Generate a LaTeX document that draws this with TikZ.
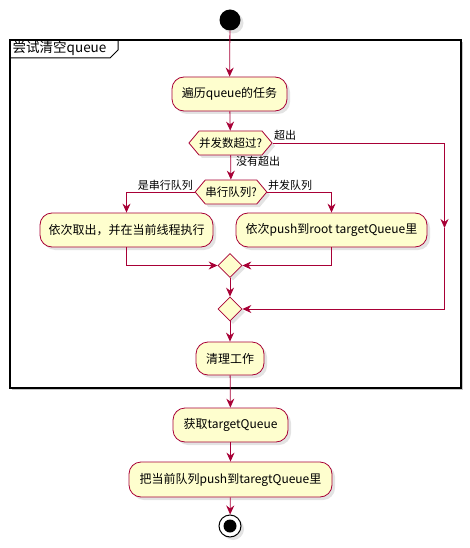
\documentclass[tikz,border=0pt]{standalone}
\usepackage{fontspec}
\setmainfont{Noto Sans CJK SC}
\usetikzlibrary{arrows.meta,shapes.geometric,shapes.symbols,shadows}
\definecolor{pborder}{HTML}{A80036}
\definecolor{pfill}{HTML}{FEFECE}
\tikzset{
  shd/.style={drop shadow={shadow xshift=3pt,shadow yshift=-3pt,opacity=0.22}},
  act/.style={draw=pborder, fill=pfill, rounded corners=12pt, minimum height=34pt,
    line width=0.8pt, font=\fontsize{12}{14}\selectfont, inner sep=0pt, shd},
  hexa/.style={signal, signal to=west and east, signal pointer angle=100,
    draw=pborder, fill=pfill, minimum height=24pt, inner sep=0pt,
    line width=0.8pt, font=\fontsize{11.5}{13}\selectfont, shd},
  merge/.style={diamond, draw=pborder, fill=pfill, minimum width=24pt,
    minimum height=24pt, inner sep=0pt, line width=0.8pt, shd},
  flow/.style={draw=pborder, line width=0.8pt,
    -{Stealth[length=9pt,width=8pt,inset=3pt]}},
  lbl/.style={font=\fontsize{11}{13}\selectfont, inner sep=0pt},
}
\begin{document}
\begin{tikzpicture}[x=1pt,y=-1pt]
\useasboundingbox (0,0) rectangle (470,548);
% frame
\node[draw=black, fill=white, line width=1.6pt, minimum width=451pt, minimum height=348pt,
  inner sep=0pt, drop shadow={shadow xshift=2pt,shadow yshift=-2pt,opacity=0.45}]
  (frame) at (235.5,214) {};
\node[anchor=north west, inner sep=0pt, font=\fontsize{13.5}{15}\selectfont]
  (title) at (12.5,41) {尝试清空queue};
\draw[line width=1pt] (10,58) -- (110,58) -- (118,50) -- (118,40);

% start
\node[circle, fill=black, minimum size=21pt, inner sep=0pt, shd] (start) at (230,20) {};

\node[act, minimum width=115pt] (n1) at (229.5,94) {遍历queue的任务};
\node[hexa, minimum width=83pt] (h1) at (230.5,143) {并发数超过?};
\node[hexa, minimum width=70pt] (h2) at (231,192) {串行队列?};
\node[act, minimum width=173pt] (left) at (126.5,230) {依次取出，并在当前线程执行};
\node[act, minimum width=191pt] (right) at (331.5,230) {依次push到root targetQueue里};
\node[merge] (d1) at (230,265.5) {};
\node[merge] (d2) at (230,309) {};
\node[act, minimum width=68pt, minimum height=33pt] (clean) at (230,358.5) {清理工作};
\node[act, minimum width=115pt] (get) at (230.5,425) {获取targetQueue};
\node[act, minimum width=203pt, minimum height=35pt] (push) at (230.5,479.5) {把当前队列push到taregtQueue里};
\node[circle, draw=black, line width=1pt, fill=white, minimum size=22pt, inner sep=0pt,
  path picture={\fill[black] (path picture bounding box.center) circle (6.5pt);}, shd]
  (end) at (230,526) {};

\coordinate (over) at (444.5,228);

% labels
\node[lbl, anchor=base west] (lover) at (274,140) {超出};
\node[lbl, anchor=base west] (lnot) at (236,166) {没有超出};
\node[lbl, anchor=base east] (lser) at (193,189) {是串行队列};
\node[lbl, anchor=base west] (lcon) at (268,189) {并发队列};

% connectors
\draw[flow] (start) -- (n1);
\draw[flow] (n1) -- (h1);
\draw[flow] (h1) -- (h2);
\draw[flow] (h2.west) -| (left.north);
\draw[flow] (h2.east) -| (right.north);
\draw[flow] (left.south) |- (d1.west);
\draw[flow] (right.south) |- (d1.east);
\draw[flow] (d1) -- (d2);
\draw[flow] (h1.east) -| (over);
\draw[flow] (over) |- (d2.east);
\draw[flow] (d2) -- (clean);
\draw[flow] (clean) -- (get);
\draw[flow] (get) -- (push);
\draw[flow] (push) -- (end);
\end{tikzpicture}
\end{document}
